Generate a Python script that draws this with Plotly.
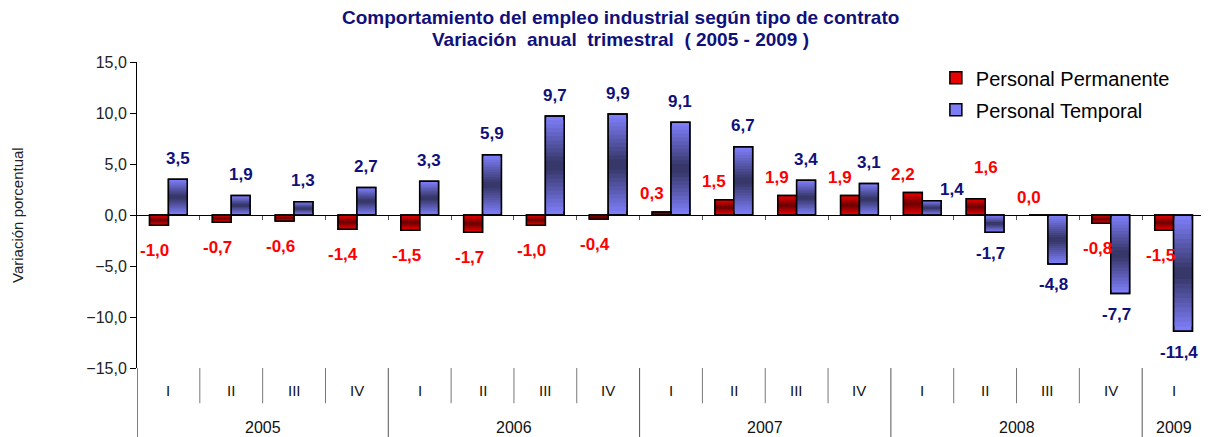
import plotly.graph_objs as go

# Data
years = ['2005', '2006', '2007', '2008', '2009']
quarters_per_year = [4, 4, 4, 4, 1]
quarter_names = ['I', 'II', 'III', 'IV']
permanente = [-1.0, -0.7, -0.6, -1.4, -1.5, -1.7, -1.0, -0.4, 0.3, 1.5, 1.9, 1.9, 2.2, 1.6, 0.0, -0.8, -1.5]
temporal = [3.5, 1.9, 1.3, 2.7, 3.3, 5.9, 9.7, 9.9, 9.1, 6.7, 3.4, 3.1, 1.4, -1.7, -4.8, -7.7, -11.4]

FONT = 'Liberation Sans, Arial, sans-serif'
NAVY = '#10107a'
RED = '#ff0000'

quarters = []
for y, n in zip(years, quarters_per_year):
    quarters += quarter_names[:n]
xs = list(range(len(quarters)))


def lerp(c1, c2, t):
    return 'rgb(%d,%d,%d)' % tuple(round(a + (b - a) * t) for a, b in zip(c1, c2))


def fmt(v):
    return f'{v:.1f}'.replace('.', ',')


fig = go.Figure()

# bars with a banded fill (light at the ends, dark in the middle)
series = [
    ('Personal Permanente', permanente, -0.3, (235, 0, 0), (115, 0, 0)),
    ('Personal Temporal', temporal, 0.0, (125, 125, 248), (55, 55, 105)),
]
n_layers = 12
for name, vals, off, light, dark in series:
    for k in range(n_layers):
        f = k * 0.45 / (n_layers - 1)
        fig.add_trace(go.Bar(
            x=xs,
            y=[v * (1 - 2 * f) for v in vals],
            base=[v * f for v in vals],
            offset=off,
            width=0.3,
            name=name,
            legendgroup=name,
            showlegend=(k == 0),
            marker=dict(color=lerp(light, dark, k / (n_layers - 1)),
                        line=dict(color='black', width=1.5 if k == 0 else 0)),
            hoverinfo='skip'
        ))
    # outline on top
    fig.add_trace(go.Bar(
        x=xs, y=vals, offset=off, width=0.3,
        name=name, legendgroup=name, showlegend=False,
        marker=dict(color='rgba(0,0,0,0)', line=dict(color='black', width=1.5)),
        hovertemplate=name + ': %{y}<extra></extra>'
    ))

annotations = []
lab = dict(showarrow=False, xanchor='center', yanchor='middle')
# value labels
for i, (p, t) in enumerate(zip(permanente, temporal)):
    if p > 0 and t < 0:
        xsh, ysh = 10, 31
    elif p >= 0:
        xsh, ysh = -10, 18
    else:
        xsh, ysh = -4, -25
    annotations.append(dict(x=i - 0.15, y=p, text='<b>%s</b>' % fmt(p), xshift=xsh, yshift=ysh,
                            font=dict(color=RED, size=17, family=FONT), **lab))
    if t >= 0 and p > t:
        xsh, ysh = 20, 11
    elif t >= 0:
        xsh, ysh = 0, 21
    else:
        xsh, ysh = -4, -21
    annotations.append(dict(x=i + 0.15, y=t, text='<b>%s</b>' % fmt(t), xshift=xsh, yshift=ysh,
                            font=dict(color=NAVY, size=17, family=FONT), **lab))

# category labels
shapes = []
start = 0
for y, n in zip(years, quarters_per_year):
    for j in range(n):
        annotations.append(dict(x=start + j, y=-0.072, yref='paper', text=quarters[start + j],
                                font=dict(size=15, color='#111', family=FONT), **lab))
    annotations.append(dict(x=start + (n - 1) / 2, y=-0.193, yref='paper', text=y,
                            font=dict(size=16, color='#111', family=FONT), **lab))
    for j in range(1, n):
        shapes.append(dict(type='line', xref='x', yref='paper', x0=start + j - 0.5, x1=start + j - 0.5,
                           y0=0, y1=-0.115, line=dict(color='#777', width=1)))
    shapes.append(dict(type='line', xref='x', yref='paper', x0=start - 0.5, x1=start - 0.5,
                       y0=0, y1=-0.23, line=dict(color='#555' if start else 'black', width=1)))
    start += n

annotations.append(dict(x=-0.1124, y=0.5, xref='paper', yref='paper', text='Variación porcentual',
                        textangle=-90, font=dict(size=15, color='#222', family=FONT), **lab))

# title lines
annotations.append(dict(x=0.453, y=1.147, xref='paper', yref='paper',
                        text='<b>Comportamiento del empleo industrial según tipo de contrato</b>',
                        font=dict(size=19, color=NAVY, family=FONT), **lab))
annotations.append(dict(x=0.453, y=1.0735, xref='paper', yref='paper',
                        text='<b>Variación  anual  trimestral  ( 2005 - 2009 )</b>',
                        font=dict(size=19, color=NAVY, family=FONT), **lab))

# the page body adds 8px around the figure, so the figure is 8px smaller
fig.update_layout(
    width=1201, height=429,
    margin=dict(l=129, r=4, t=54, b=69),
    paper_bgcolor='white', plot_bgcolor='white',
    separators=',.',
    barmode='overlay',
    font=dict(family=FONT),
    legend=dict(x=0.748, y=1.012, xanchor='left', yanchor='top', bgcolor='rgba(0,0,0,0)',
                font=dict(size=20, color='black', family=FONT), tracegroupgap=3),
    xaxis=dict(range=[-0.5, len(quarters) - 0.5], anchor='free', position=0.5,
               tickvals=[i + 0.5 for i in xs[:-1]], ticks='outside', ticklen=4,
               tickcolor='#555', showticklabels=False, showgrid=False,
               zeroline=False, showline=False),
    yaxis=dict(range=[-15, 15], dtick=5, tickformat='.1f', ticks='outside', ticklen=6,
               tickcolor='black', showline=True, linecolor='black', linewidth=1,
               showgrid=False, zeroline=True, zerolinecolor='black', zerolinewidth=1,
               tickfont=dict(size=16, color='#222', family=FONT)),
    annotations=annotations,
    shapes=shapes,
)

fig.write_html("out.html")
